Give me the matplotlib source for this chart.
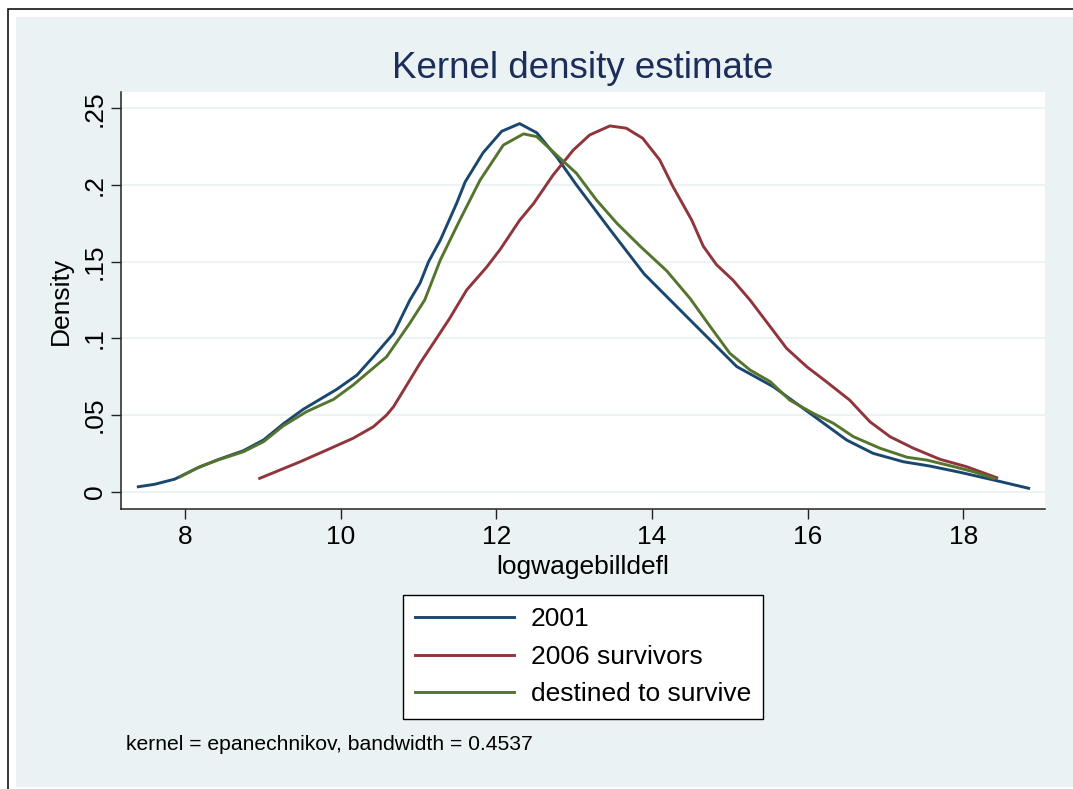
import matplotlib
matplotlib.use("Agg")
import matplotlib.pyplot as plt
from matplotlib.patches import Rectangle

plt.rcParams['font.family'] = ['Liberation Sans', 'DejaVu Sans']

# ---- data ----
x_2001 = [7.40, 7.61, 7.87, 8.15, 8.41, 8.75, 9.01, 9.26, 9.52, 9.95, 10.21, 10.42,
          10.68, 10.89, 11.02, 11.13, 11.28, 11.49, 11.60, 11.83, 12.07, 12.30, 12.52,
          12.78, 13.03, 13.46, 13.90, 14.49, 15.09, 15.56, 16.03, 16.50, 16.84, 17.23,
          17.57, 17.96, 18.39, 18.84]
y_2001 = [0.0033, 0.0049, 0.0083, 0.0153, 0.0207, 0.0268, 0.0338, 0.0442, 0.0538, 0.0668,
          0.0761, 0.0880, 0.1033, 0.1250, 0.1360, 0.1500, 0.1640, 0.1880, 0.2020, 0.2210,
          0.2350, 0.2400, 0.2340, 0.2180, 0.2000, 0.1710, 0.1420, 0.1120, 0.0816, 0.0685,
          0.0512, 0.0338, 0.0251, 0.0196, 0.0168, 0.0127, 0.0077, 0.0023]

x_2006 = [8.96, 9.22, 9.48, 9.82, 10.16, 10.42, 10.59, 10.68, 10.85, 11.02, 11.19, 11.40,
          11.62, 11.88, 12.05, 12.30, 12.48, 12.73, 12.99, 13.20, 13.46, 13.67, 13.88,
          14.10, 14.27, 14.51, 14.66, 14.83, 15.04, 15.26, 15.52, 15.73, 15.99, 16.24,
          16.54, 16.80, 17.06, 17.36, 17.70, 18.04, 18.43]
y_2006 = [0.0088, 0.0142, 0.0196, 0.0272, 0.0349, 0.0424, 0.0500, 0.0555, 0.0696, 0.0838,
          0.0968, 0.1130, 0.1316, 0.1467, 0.1580, 0.1770, 0.1880, 0.2065, 0.2228, 0.2326,
          0.2385, 0.2370, 0.2305, 0.2163, 0.1989, 0.1772, 0.1600, 0.1480, 0.1380, 0.1250,
          0.1076, 0.0935, 0.0815, 0.0718, 0.0598, 0.0457, 0.0359, 0.0284, 0.0212, 0.0164,
          0.0092]

x_dest = [7.94, 8.19, 8.45, 8.75, 9.01, 9.26, 9.56, 9.91, 10.16, 10.59, 10.89, 11.08,
          11.28, 11.53, 11.79, 12.09, 12.35, 12.52, 12.82, 13.03, 13.29, 13.55, 13.85,
          14.19, 14.49, 14.75, 15.00, 15.26, 15.52, 15.77, 16.07, 16.33, 16.59, 16.93,
          17.28, 17.53, 17.88, 18.13, 18.39]
y_dest = [0.0098, 0.0164, 0.0212, 0.0261, 0.0327, 0.0429, 0.0522, 0.0603, 0.0696, 0.0880,
          0.1100, 0.1250, 0.1510, 0.1770, 0.2030, 0.2260, 0.2333, 0.2315, 0.2174, 0.2076,
          0.1900, 0.1750, 0.1600, 0.1440, 0.1260, 0.1076, 0.0903, 0.0794, 0.0718, 0.0598,
          0.0512, 0.0447, 0.0359, 0.0284, 0.0225, 0.0207, 0.0164, 0.0131, 0.0088]

labels = ["2001", "2006 survivors", "destined to survive"]
colors = ["#1a476f", "#90353b", "#55752f"]

x_ticks = [8, 10, 12, 14, 16, 18]
y_ticks = [0, 0.05, 0.10, 0.15, 0.20, 0.25]
y_ticklabels = ["0", ".05", ".1", ".15", ".2", ".25"]

title = "Kernel density estimate"
xlabel = "logwagebilldefl"
ylabel = "Density"
note = "kernel = epanechnikov, bandwidth = 0.4537"

# ---- figure ----
W, H = 1073, 789
fig = plt.figure(figsize=(W / 100, H / 100), dpi=100, facecolor="white")
bg = "#eaf2f3"

fig.add_artist(Rectangle((16 / W, 2 / H), 1.0, 1 - 17 / H - 2 / H,
                         transform=fig.transFigure, facecolor=bg, edgecolor="none",
                         zorder=-3))
fig.add_artist(Rectangle((7.5 / W, -0.05), 1.2, 1.05 - 9 / H,
                         transform=fig.transFigure, facecolor="none", edgecolor="black",
                         linewidth=1.1, zorder=-2))

ax = fig.add_axes([121 / W, 1 - 509 / H, (1045 - 121) / W, (509 - 92) / H])
ax.set_facecolor("white")

series = [(x_2001, y_2001), (x_2006, y_2006), (x_dest, y_dest)]
for (xs, ys), lab, c in zip(series, labels, colors):
    ax.plot(xs, ys, color=c, linewidth=2.1, label=lab, solid_joinstyle="round")

ax.set_xlim(7.178, 19.05)
ax.set_ylim(-0.0112, 0.2606)
ax.set_xticks(x_ticks)
ax.set_xticklabels([str(t) for t in x_ticks])
ax.set_yticks(y_ticks)
ax.set_yticklabels(y_ticklabels, rotation=90, va="center")

ax.grid(axis="y", color=bg, linewidth=1.3)
ax.set_axisbelow(True)
for s in ["top", "right"]:
    ax.spines[s].set_visible(False)
for s in ["left", "bottom"]:
    ax.spines[s].set_color("#222222")
    ax.spines[s].set_linewidth(1.1)
ax.tick_params(axis="both", direction="out", length=7.2, width=1.0, color="#222222",
               labelsize=19, labelcolor="black")
ax.tick_params(axis="x", pad=4.5)
ax.tick_params(axis="y", pad=3)

ax.set_xlabel(xlabel, fontsize=19, va="center")
ax.xaxis.set_label_coords(0.5, -(567 - 509) / 417)
ax.set_ylabel(ylabel, fontsize=19, va="center")
ax.yaxis.set_label_coords(-(121 - 61) / 924, 0.5)

ax.set_title(title, fontsize=26.5, color="#1c2d5a", y=1 + 23 / 417, va="center", pad=0)

leg = ax.legend(loc="upper center", bbox_to_anchor=(0.5, -(595 - 509) / 417),
                fontsize=19, frameon=True, fancybox=False, edgecolor="black",
                framealpha=1, handlelength=3.75, handletextpad=0.64,
                labelspacing=0.51, borderpad=0.47, borderaxespad=0)
leg.get_frame().set_linewidth(1.0)

fig.text(126 / W, 1 - 745 / H, note, fontsize=15.2, ha="left", va="center")

fig.savefig("out.png", dpi=100, facecolor="white")
